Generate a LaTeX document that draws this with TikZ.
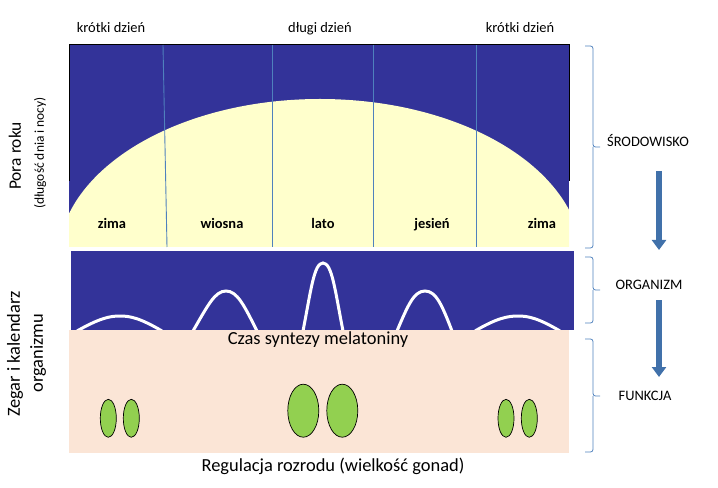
\documentclass[tikz,border=0pt]{standalone}
\usepackage{fontspec}
\setmainfont{Carlito}
\usetikzlibrary{arrows.meta,shapes.geometric}
\definecolor{nightblue}{RGB}{51,51,153}
\definecolor{dayyellow}{RGB}{255,255,204}
\definecolor{peach}{RGB}{251,229,214}
\definecolor{gonad}{RGB}{146,208,80}
\definecolor{sepblue}{RGB}{79,129,189}
\definecolor{arrowblue}{RGB}{65,113,170}
\tikzset{
  sepline/.style={draw=sepblue, line width=0.9bp},
  season/.style={font=\fontsize{14.5}{17}\selectfont\bfseries, inner sep=0pt, anchor=base},
  toplabel/.style={font=\fontsize{14.5}{17}\selectfont, inner sep=0pt},
  biglabel/.style={font=\fontsize{18.5}{22}\selectfont, inner sep=0pt},
  sidelabel/.style={font=\fontsize{14.5}{17}\selectfont, inner sep=0pt},
  melcurve/.style={draw=white, line width=3bp},
  gonadsmall/.style={ellipse, draw=black, line width=0.7bp, fill=gonad, inner sep=0pt, minimum width=16bp, minimum height=38bp},
  gonadbig/.style={ellipse, draw=black, line width=0.7bp, fill=gonad, inner sep=0pt, minimum width=31bp, minimum height=53bp},
  bracket/.style={draw=sepblue, line width=0.8bp, rounded corners=2.5bp},
  blockarrow/.style={draw=arrowblue, line width=5.5bp, -{Triangle[width=14bp,length=10bp]}},
}
\begin{document}
\begin{tikzpicture}[x=1bp,y=-1bp]
\useasboundingbox (0,0) rectangle (718,488);
% ---- top panel: season / day length
\fill[nightblue] (69,45) rectangle (569,247);
\begin{scope}
  \clip (69,45) rectangle (569,247);
  \fill[dayyellow] (320,260) ellipse [x radius=262bp, y radius=161bp];
\end{scope}
\draw[black, line width=1bp] (69,181) -- (69,45) -- (569,45) -- (569,181);
\draw[sepline] (163,45) -- (167,247);
\draw[sepline] (272,45) -- (272,247);
\draw[sepline] (373,45) -- (373,247);
\draw[sepline] (476,45) -- (476,247);
\node[toplabel, anchor=base] (kd1) at (111,33) {krótki dzień};
\node[toplabel, anchor=base] (dd) at (320,33) {długi dzień};
\node[toplabel, anchor=base] (kd2) at (520,33) {krótki dzień};
\node[season] (s1) at (112,229) {zima};
\node[season] (s2) at (222,229) {wiosna};
\node[season] (s3) at (323,229) {lato};
\node[season] (s4) at (432,229) {jesień};
\node[season] (s5) at (542,229) {zima};
% ---- middle panel: melatonin
\fill[nightblue] (71,251) rectangle (574,330);
\begin{scope}
  \clip (71,251) rectangle (574,330);
  \draw[melcurve] (77,331) .. controls (100,318) and (110,316) .. (120,316) .. controls (130,316) and (140,318) .. (162,331);
  \draw[melcurve] (193,331) .. controls (208,305) and (215,291) .. (226,291) .. controls (237,291) and (244,305) .. (257,331);
  \draw[melcurve] (303,331) .. controls (311,290) and (314,263) .. (323,263) .. controls (332,263) and (335,290) .. (343,331);
  \draw[melcurve] (397,331) .. controls (408,305) and (414,291) .. (425,291) .. controls (436,291) and (442,305) .. (452,331);
  \draw[melcurve] (475,331) .. controls (497,318) and (508,316) .. (518,316) .. controls (528,316) and (538,318) .. (560,331);
\end{scope}
% ---- bottom panel: reproduction
\fill[peach] (69,330) rectangle (569,453);
\node[biglabel] (mel) at (318,340) {Czas syntezy melatoniny};
\node[biglabel] (rep) at (333,466) {Regulacja rozrodu (wielkość gonad)};
\node[gonadsmall] (g1) at (108.3,418.3) {};
\node[gonadsmall] (g2) at (131.3,418.3) {};
\node[gonadbig] (g3) at (303.3,410.7) {};
\node[gonadbig] (g4) at (342.3,410.7) {};
\node[gonadsmall] (g5) at (506,418.3) {};
\node[gonadsmall] (g6) at (529.3,418.3) {};
% ---- left labels
\node[biglabel, rotate=90, font=\fontsize{17.5}{21}\selectfont] (pora) at (15,156) {Pora roku};
\node[sidelabel, rotate=90, font=\fontsize{13.5}{16}\selectfont] (dlug) at (40,153) {(długość dnia i nocy)};
\node[biglabel, rotate=90] (zeg) at (15,354) {Zegar i kalendarz};
\node[biglabel, rotate=90] (orgz) at (38,353) {organizmu};
% ---- right braces and labels
\draw[bracket] (585,46) -- (593,46) -- (593,147) -- (600,147);
\draw[bracket] (593,147) -- (593,248) -- (585,248);
\draw[bracket] (585,257) -- (593,257) -- (593,290) -- (600,290);
\draw[bracket] (593,290) -- (593,323) -- (585,323);
\draw[bracket] (585,339) -- (593,339) -- (593,396) -- (600,396);
\draw[bracket] (593,396) -- (593,452) -- (585,452);
\node[toplabel] (srod) at (648,141) {ŚRODOWISKO};
\node[toplabel] (org) at (649,285) {ORGANIZM};
\node[toplabel] (fun) at (645,396) {FUNKCJA};
\coordinate (a1s) at (659,171);
\coordinate (a1e) at (659,250);
\coordinate (a2s) at (659,300);
\coordinate (a2e) at (659,377);
\draw[blockarrow] (a1s) -- (a1e);
\draw[blockarrow] (a2s) -- (a2e);
\end{tikzpicture}
\end{document}
